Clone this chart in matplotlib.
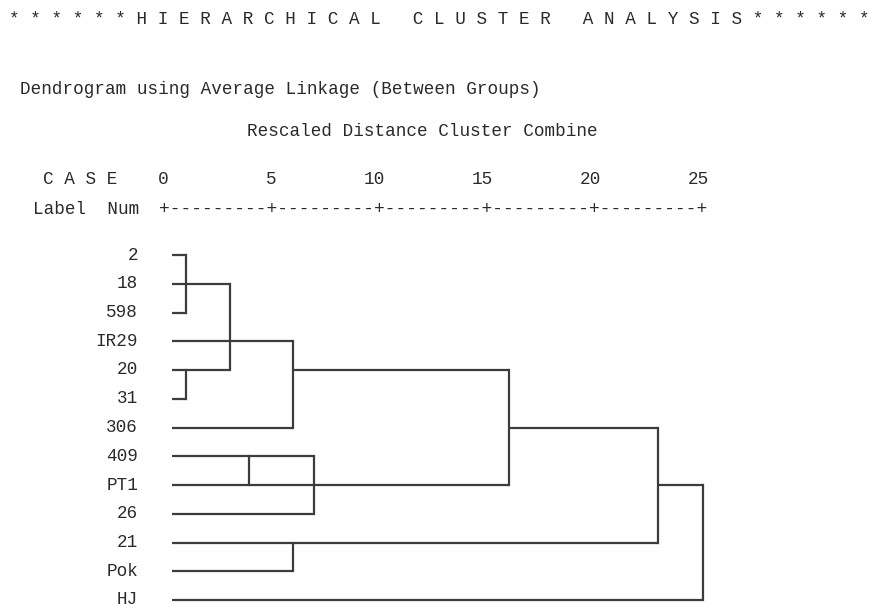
import matplotlib
matplotlib.use("Agg")
import matplotlib.pyplot as plt

# ---------------- data ----------------
labels = ['2', '18', '598', 'IR29', '20', '31', '306', '409', 'PT1', '26', '21', 'Pok', 'HJ']
# rescaled distance where each leaf's horizontal line ends
leaf_reach = [1.06, 3.1, 1.06, 6.0, 3.1, 1.06, 6.0, 7.0, 16.0, 7.0, 22.9, 6.0, 25.0]
leaf_start = 0.42
# vertical joins: (rescaled distance, first row, last row)
joins = [(1.06, 0, 2), (1.06, 4, 5), (3.1, 1, 4), (6.0, 3, 6), (4.0, 7, 8),
         (7.0, 7, 9), (16.0, 4, 8), (6.0, 10, 11), (22.9, 6, 10), (25.0, 8, 12)]
# horizontal links between clusters: (row, from distance, to distance)
links = [(4, 6.0, 16.0), (6, 16.0, 22.9), (8, 22.9, 25.0)]
ticks = [0, 5, 10, 15, 20, 25]

title = "* * * * * * H I E R A R C H I C A L   C L U S T E R   A N A L Y S I S * * * * * *"
subtitle = "Dendrogram using Average Linkage (Between Groups)"
axis_title = "Rescaled Distance Cluster Combine"

# ---------------- figure ----------------
W, H = 872, 610
fig = plt.figure(figsize=(W / 100, H / 100), dpi=100)
ax = fig.add_axes([0, 0, 1, 1])
px_unit = 21.6      # pixels per distance unit
x0_px = 163         # pixel position of distance 0
row_px = 28.75      # pixels per row
row0_px = 255       # pixel position of first row
ax.set_xlim(-x0_px / px_unit, (W - x0_px) / px_unit)
ax.set_ylim((H - row0_px) / row_px, -row0_px / row_px)
ax.axis('off')

lc = '#3c3c3c'
tc = '#2a2a2a'
lw = 1.6
font = 'Liberation Mono'
fs = 12.7

for i, r in enumerate(leaf_reach):
    ax.plot([leaf_start, r], [i, i], color=lc, lw=lw, solid_capstyle='butt')
for d, a, b in joins:
    ax.plot([d, d], [a, b], color=lc, lw=lw, solid_capstyle='projecting')
for row, a, b in links:
    ax.plot([a, b], [row, row], color=lc, lw=lw, solid_capstyle='butt')

for i, lab in enumerate(labels):
    ax.text(-1.15, i, lab, ha='right', va='center', family=font, fontsize=fs, color=tc)

def yrow(py):
    return (py - row0_px) / row_px

def xd(px):
    return (px - x0_px) / px_unit

for t in ticks:
    ax.text(t + 0.27, yrow(180), str(t), ha='right', va='center', family=font, fontsize=fs, color=tc)

ruler = "+" + "+".join(["-" * 9] * 5) + "+"
ax.text((ticks[0] + ticks[-1]) / 2, yrow(210), ruler, ha='center', va='center',
        family=font, fontsize=12.96, color=tc)
ax.text(xd(43), yrow(180), "C A S E", ha='left', va='center', family=font, fontsize=fs, color=tc)
ax.text(xd(33), yrow(210), "Label  Num", ha='left', va='center', family=font, fontsize=fs, color=tc)

ax.text(xd(439), yrow(20), title, ha='center', va='center', family=font, fontsize=fs, color=tc)
ax.text(xd(20), yrow(90), subtitle, ha='left', va='center', family=font, fontsize=fs, color=tc)
ax.text(xd(247), yrow(132), axis_title, ha='left', va='center', family=font, fontsize=fs, color=tc)

fig.savefig('out.png', dpi=100)
